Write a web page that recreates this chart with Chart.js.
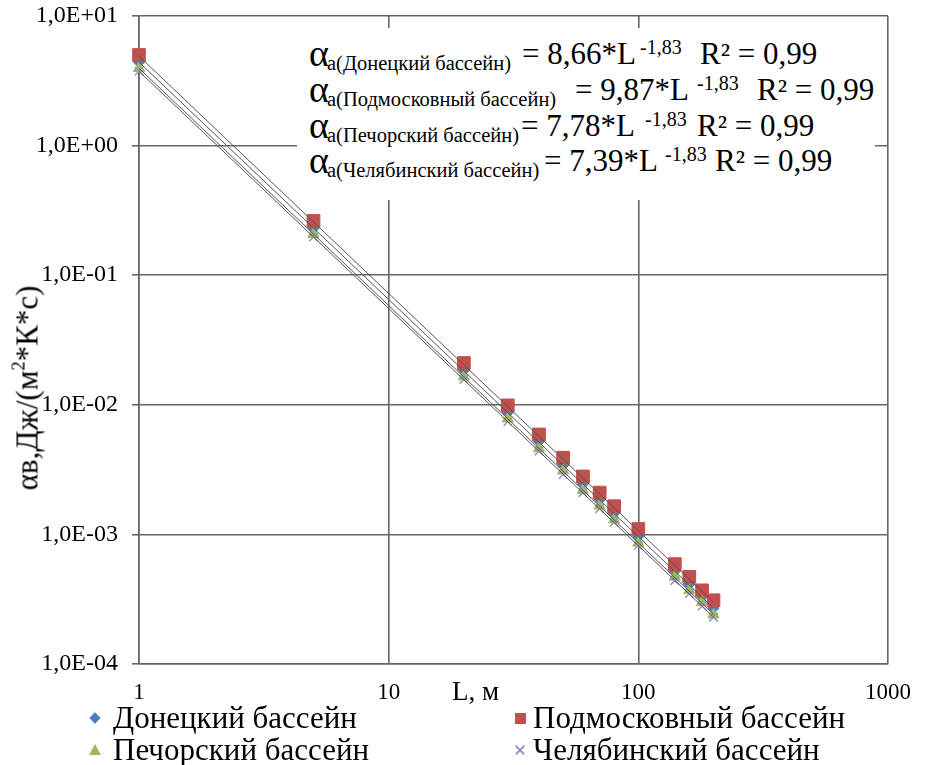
<!DOCTYPE html>
<html>
<head>
<meta charset="utf-8">
<script src="https://cdn.jsdelivr.net/npm/chart.js@4.4.1/dist/chart.umd.min.js"></script>
<style>
    body { margin: 0; background: #fff; font-family: 'Liberation Serif', serif; }
    #wrap { position: relative; width: 931px; height: 765px; overflow: hidden; font-family: 'Liberation Serif', serif; }
    #grafico { position: absolute; left: 0; top: 0; }
    .t { position: absolute; white-space: pre; line-height: 1; color: #000; font-family: 'Liberation Serif', serif; }
    #caixa { position: absolute; left: 297px; top: 28px; width: 578px; height: 172px; background: #fff; }
    #tituloY { position: absolute; left: 27px; top: 388px; transform: translate(-50%, -50%) rotate(-90deg);
               font-family: 'Liberation Serif', serif; font-size: 31px; line-height: 1; white-space: nowrap; color: #000; }
    #tituloY sup { font-size: 0.6em; vertical-align: 0.7em; line-height: 0; }
    .mk { position: absolute; }
</style>
</head>
<body>
<div id="wrap">
    <canvas id="grafico" width="931" height="765"></canvas>
    <div id="caixa"></div>
    <div id="tituloY">αв,Дж/(м<sup>2</sup>*К*с)</div>
</div>
<script>
// dados
const comprimentos = [1, 5, 20, 30, 40, 50, 60, 70, 80, 100, 140, 160, 180, 200];
const donetsk   = [4.4, 0.23, 0.0184, 0.0087, 0.0052, 0.0034, 0.00245, 0.00185, 0.00145, 0.00096, 0.00052, 0.00041, 0.00033, 0.00027];
const podmosk   = [5.0, 0.262, 0.021, 0.0099, 0.0059, 0.0039, 0.0028, 0.0021, 0.00165, 0.0011, 0.00059, 0.00047, 0.00037, 0.00031];
const pechora   = [3.95, 0.207, 0.0165, 0.0078, 0.0046, 0.0031, 0.0022, 0.00166, 0.0013, 0.00086, 0.00047, 0.00037, 0.0003, 0.00024];
const chelyab   = [3.75, 0.197, 0.0157, 0.0074, 0.0044, 0.0029, 0.0021, 0.00158, 0.00124, 0.00082, 0.00044, 0.00035, 0.00028, 0.00023];

// linhas de tendencia (extremos lidos)
const tendX     = [1, 200];
const tendDon   = [4.4, 0.00027];
const tendPod   = [4.9, 0.0003];
const tendPech  = [3.95, 0.000242];
const tendChel  = [3.75, 0.00023];

const bacias = ['Донецкий бассейн', 'Подмосковный бассейн', 'Печорский бассейн', 'Челябинский бассейн'];
const coefs = ['8,66', '9,87', '7,78', '7,39'];
const expoente = '-1,83';
const r2 = '0,99';

const xTicks = [1, 10, 100, 1000];
const xTickLabels = ['1', '10', '100', '1000'];
const yTicks = [0.0001, 0.001, 0.01, 0.1, 1, 10];
const yTickLabels = ['1,0E-04', '1,0E-03', '1,0E-02', '1,0E-01', '1,0E+00', '1,0E+01'];

const cores = ['#4a7ebb', '#c0504d', '#9bbb59', '#9a93c8'];
const corGrade = '#666666';
const familia = "'Liberation Serif', serif";

function pares(xs, ys) { return xs.map((x, i) => ({ x: x, y: ys[i] })); }

const wrap = document.getElementById('wrap');

function texto(txt, left, base, size) {
    const s = document.createElement('span');
    s.className = 't';
    s.textContent = txt;
    s.style.left = left + 'px';
    s.style.top = (base - 0.8375 * size) + 'px';
    s.style.fontSize = size + 'px';
    s.style.fontFamily = familia;
    wrap.appendChild(s);
}

// equacoes
const linhaBase = [64, 100, 136, 171];
const eqLeft = [522, 575, 521, 544];
const supLeft = [640, 697, 645, 665];
const r2Left = [700, 757, 697, 715];
bacias.forEach((b, i) => {
    const y = linhaBase[i];
    texto('α', 309, y + 2, 38);
    texto('а(' + b + ')', 327, y + 6, 20.5);
    texto('= ' + coefs[i] + '*L', eqLeft[i], y, 31);
    texto(expoente, supLeft[i], y - 10, 20);
    texto('R² = ' + r2, r2Left[i], y, 31);
});

texto('L, м', 452, 701, 27);

// legenda
const legPos = [[95, 113, 718], [520, 533, 718], [95, 113, 750], [520, 533, 750]];
bacias.forEach((b, i) => {
    const [mx, tx, cy] = legPos[i];
    const m = document.createElement('div');
    m.className = 'mk';
    if (i === 0) {
        m.style.cssText = `left:${mx - 4}px;top:${cy - 4}px;width:8px;height:8px;background:${cores[0]};transform:rotate(45deg);`;
    } else if (i === 1) {
        m.style.cssText = `left:${mx - 5}px;top:${cy - 5}px;width:11px;height:11px;background:${cores[1]};`;
    } else if (i === 2) {
        m.style.cssText = `left:${mx - 6}px;top:${cy - 6}px;width:0;height:0;border-left:6px solid transparent;border-right:6px solid transparent;border-bottom:11px solid ${cores[2]};`;
    } else {
        m.style.cssText = `left:${mx - 6}px;top:${cy - 6}px;width:12px;height:12px;`;
        m.innerHTML = `<div style="position:absolute;left:0;top:5px;width:12px;height:1.5px;background:${cores[3]};transform:rotate(45deg)"></div>` +
                      `<div style="position:absolute;left:0;top:5px;width:12px;height:1.5px;background:${cores[3]};transform:rotate(-45deg)"></div>`;
    }
    wrap.appendChild(m);
    texto(b, tx, cy + 10, 31);
});

const tendencias = [tendDon, tendPod, tendPech, tendChel].map(t => ({
    data: pares(tendX, t),
    showLine: true,
    borderColor: '#555555',
    borderWidth: 1,
    pointRadius: 0,
    fill: false,
    order: 0
}));

new Chart(document.getElementById('grafico'), {
    type: 'scatter',
    data: {
        datasets: [
            { label: bacias[0], data: pares(comprimentos, donetsk), pointStyle: 'rectRot', pointRadius: 5.5,
              pointBackgroundColor: cores[0], pointBorderColor: cores[0], order: 4, clip: false },
            { label: bacias[1], data: pares(comprimentos, podmosk), pointStyle: 'rect', pointRadius: 9,
              pointBackgroundColor: cores[1], pointBorderColor: cores[1], order: 3, clip: false },
            { label: bacias[2], data: pares(comprimentos, pechora), pointStyle: 'triangle', pointRadius: 6.5,
              pointBackgroundColor: cores[2], pointBorderColor: cores[2], order: 2, clip: false },
            { label: bacias[3], data: pares(comprimentos, chelyab), pointStyle: 'crossRot', pointRadius: 6,
              pointBorderColor: cores[3], pointBorderWidth: 1.5, order: 1, clip: false },
            ...tendencias
        ]
    },
    options: {
        responsive: false,
        animation: false,
        devicePixelRatio: 1,
        layout: { padding: { top: 16, right: 43, left: 0, bottom: 61 } },
        plugins: { legend: { display: false }, tooltip: { enabled: false } },
        scales: {
            x: {
                type: 'logarithmic', min: 1, max: 1000,
                afterBuildTicks: s => { s.ticks = xTicks.map(v => ({ value: v })); },
                afterFit: s => { s.height = 40; s.paddingLeft = 0; s.paddingRight = 0; },
                ticks: { callback: (v, i) => xTickLabels[i], font: { family: familia, size: 23 }, color: '#000', padding: 15,
                         maxRotation: 0, autoSkip: false },
                grid: { color: corGrade, lineWidth: 1.6, drawTicks: false },
                border: { color: corGrade, width: 1.6 }
            },
            y: {
                type: 'logarithmic', min: 0.0001, max: 10,
                afterBuildTicks: s => { s.ticks = yTicks.map(v => ({ value: v })); },
                afterFit: s => { s.width = 139; s.paddingTop = 0; s.paddingBottom = 0; },
                ticks: { callback: (v, i) => yTickLabels[i], font: { family: familia, size: 24 }, color: '#000', padding: 14, autoSkip: false },
                grid: { color: corGrade, lineWidth: 1.6, tickLength: 7, tickColor: corGrade },
                border: { color: corGrade, width: 1.6 }
            }
        }
    }
});
</script>
</body>
</html>
